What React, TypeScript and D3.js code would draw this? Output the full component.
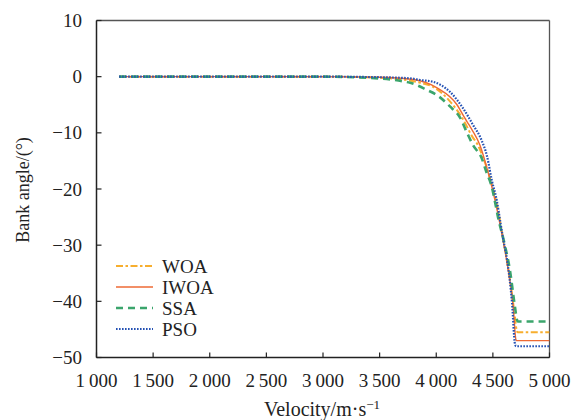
import React from "react";
import * as d3 from "d3";

const xTicks = [1000, 1500, 2000, 2500, 3000, 3500, 4000, 4500, 5000];
const yTicks = [10, 0, -10, -20, -30, -40, -50];

const woaV = [1200, 2000, 3000, 3500, 3860, 3971, 4121, 4228, 4325, 4357, 4410, 4460, 4540, 4600, 4650, 4690, 4712, 4718, 5000];
const woaA = [0, 0, 0, -0.2, -1.1, -1.8, -4.4, -7.3, -10.9, -11.8, -14.2, -17.1, -23.2, -30, -36, -42, -45.3, -45.5, -45.5];

const iwoaV = [1200, 2000, 3000, 3500, 3800, 4007, 4183, 4250, 4290, 4320, 4386, 4460, 4519, 4578, 4640, 4680, 4703, 4710, 5000];
const iwoaA = [0, 0, 0, -0.1, -0.5, -2, -5, -7.3, -8.6, -9.6, -12.2, -17.2, -22, -27.8, -35, -41, -46.8, -47, -47];

const ssaV = [1200, 2000, 3000, 3400, 3770, 3920, 4007, 4121, 4210, 4272, 4325, 4401, 4445, 4490, 4519, 4545, 4600, 4650, 4695, 4713, 4720, 5000];
const ssaA = [0, 0, 0, -0.2, -1.1, -2.4, -3.3, -5.3, -7.3, -10, -12.2, -14.5, -17.1, -19.6, -22.3, -25, -29.5, -34.4, -41, -43.3, -43.6, -43.6];

const psoV = [1200, 2000, 3000, 3500, 3770, 3860, 3971, 4121, 4236, 4325, 4400, 4450, 4490, 4534, 4563, 4589, 4625, 4669, 4695, 4705, 5000];
const psoA = [0, 0, 0, -0.1, -0.3, -0.6, -0.9, -2.7, -5.6, -8.6, -11.3, -14.3, -18.4, -22, -25.5, -28.7, -32.6, -40.3, -47.6, -48, -48];

const seriesNames = ["WOA", "IWOA", "SSA", "PSO"];

const W = 574, H = 420;
const L = 96.5, R = 549.5, T = 20.5, B = 357.5;
const FONT = "'Liberation Serif', 'Times New Roman', serif";

export default function App() {
  const x = d3.scaleLinear().domain([1000, 5000]).range([L, R]);
  const y = d3.scaleLinear().domain([-50, 10]).range([B, T]);
  const line = d3.line<[number, number]>().x(d => x(d[0])).y(d => y(d[1])).curve(d3.curveMonotoneX);
  const mk = (v: number[], a: number[]) => v.map((vv, i) => [vv, a[i]] as [number, number]);

  const styles = [
    { name: seriesNames[0], data: mk(woaV, woaA), color: "#F7AE2E", width: 2, dash: "7,2.5,2.5,2.5" },
    { name: seriesNames[1], data: mk(iwoaV, iwoaA), color: "#EE6A34", width: 1.4, dash: "" },
    { name: seriesNames[2], data: mk(ssaV, ssaA), color: "#3BA56C", width: 2.6, dash: "7,5" },
    { name: seriesNames[3], data: mk(psoV, psoA), color: "#2451B3", width: 2.2, dash: "1.6,1.4" },
  ];

  return (
    <svg width={W} height={H} style={{ position: "absolute", left: 0, top: 0 }} fontFamily={FONT}>
      <rect width={W} height={H} fill="#fff" />
      <defs>
        <clipPath id="clip"><rect x={L} y={T} width={R - L} height={B - T} /></clipPath>
      </defs>
      {/* frame */}
      <line x1={L} x2={R} y1={T} y2={T} stroke="#555" strokeWidth={1.3} />
      <line x1={R} x2={R} y1={T} y2={B} stroke="#555" strokeWidth={1.3} />
      {/* series */}
      <g clipPath="url(#clip)">
        {styles.map(s => (
          <path key={s.name} d={line(s.data) || ""} fill="none" stroke={s.color} strokeWidth={s.width} strokeDasharray={s.dash || undefined} />
        ))}
      </g>
      <line x1={L} x2={L} y1={T} y2={B} stroke="#222" strokeWidth={1.5} />
      <line x1={L} x2={R} y1={B} y2={B} stroke="#222" strokeWidth={1.5} />
      {/* y ticks */}
      {yTicks.map(t => (
        <g key={t}>
          <line x1={L} x2={L + 5} y1={y(t)} y2={y(t)} stroke="#222" strokeWidth={1.2} />
          <text x={82} y={y(t)} dy="0.35em" textAnchor="end" fontSize={19} fill="#222">
            {t < 0 ? "\u2212" + Math.abs(t) : String(t)}
          </text>
        </g>
      ))}
      {/* x ticks */}
      {xTicks.map(t => (
        <g key={t}>
          <line x1={x(t)} x2={x(t)} y1={B} y2={B - 5} stroke="#222" strokeWidth={1.2} />
          <text x={x(t)} y={387} textAnchor="middle" fontSize={19} fill="#222">
            {d3.format(",")(t).replace(",", "\u2009")}
          </text>
        </g>
      ))}
      <text x={322} y={416} textAnchor="middle" fontSize={20} fill="#222">
        Velocity/m·s<tspan dy={-7} fontSize={13}>−1</tspan>
      </text>
      <text transform={`translate(29,190) rotate(-90)`} textAnchor="middle" fontSize={18} fill="#222">
        Bank angle/(°)
      </text>
      {/* legend */}
      {styles.map((s, i) => (
        <g key={s.name} transform={`translate(0, ${266 + i * 21})`}>
          <line x1={116} x2={153} y1={0} y2={0} stroke={s.color} strokeWidth={s.width} strokeDasharray={s.dash || undefined} />
          <text x={162} y={0} dy="0.35em" fontSize={19} fill="#222">{s.name}</text>
        </g>
      ))}
    </svg>
  );
}
